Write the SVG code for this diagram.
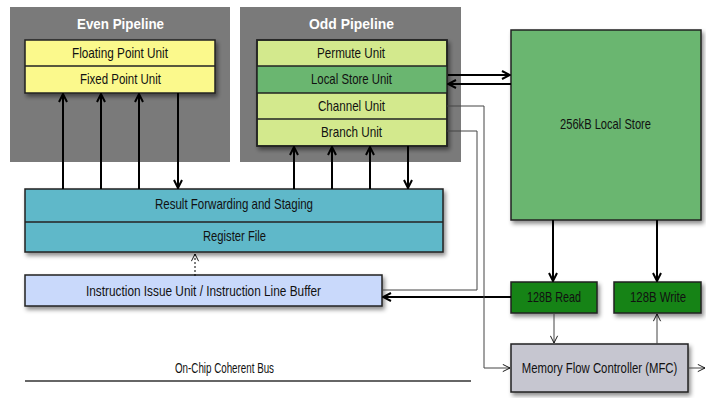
<svg xmlns="http://www.w3.org/2000/svg" width="706" height="398" viewBox="0 0 706 398">
<defs>
<filter id="sh" x="-10%" y="-10%" width="130%" height="140%">
<feDropShadow dx="2" dy="3" stdDeviation="2" flood-color="#000" flood-opacity="0.45"/>
</filter>
<marker id="ah" viewBox="0 0 10 10" refX="9" refY="5" markerWidth="10" markerHeight="10" markerUnits="userSpaceOnUse" orient="auto">
<path d="M1,1 L9,5 L1,9" fill="none" stroke="#000" stroke-width="2"/>
</marker>
<marker id="ahs" viewBox="0 0 10 10" refX="9" refY="5" markerWidth="9" markerHeight="9" markerUnits="userSpaceOnUse" orient="auto">
<path d="M1,1 L9,5 L1,9" fill="none" stroke="#000" stroke-width="1"/>
</marker>
</defs>
<style>
text{font-family:"Liberation Sans",Arial,sans-serif;font-size:15px;text-anchor:middle;fill:#111}
.title{font-weight:bold;fill:#fff;font-size:15px}
.box{stroke:#222;stroke-width:1.5}
.panel{fill:#7a7a7a}
.thick{stroke:#000;stroke-width:2;fill:none}
.thin{stroke:#444;stroke-width:1;fill:none}
</style>
<rect width="706" height="398" fill="#fff"/>

<g id="even-pipeline">
<rect class="panel" x="10" y="7" width="220" height="155"/>
<text class="title" x="120.5" y="29" textLength="87" lengthAdjust="spacingAndGlyphs">Even Pipeline</text>
</g>
<g id="odd-pipeline">
<rect class="panel" x="240" y="7" width="221" height="155"/>
<text class="title" x="351.5" y="29" textLength="85" lengthAdjust="spacingAndGlyphs">Odd Pipeline</text>
</g>

<g id="even-units" filter="url(#sh)">
<rect class="box" x="25" y="40" width="190" height="53" fill="#fbf98c"/>
<line x1="25" y1="66" x2="215" y2="66" stroke="#222" stroke-width="1.5"/>
</g>
<g id="floating-point-unit"><text x="120" y="58" textLength="96" lengthAdjust="spacingAndGlyphs">Floating Point Unit</text></g>
<g id="fixed-point-unit"><text x="120.5" y="84" textLength="81" lengthAdjust="spacingAndGlyphs">Fixed Point Unit</text></g>

<g id="odd-units" filter="url(#sh)">
<rect class="box" x="257" y="40" width="190" height="106" fill="#d3e98d"/>
<rect x="257" y="66" width="190" height="27" fill="#6bb66f"/>
<line x1="257" y1="66" x2="447" y2="66" stroke="#222" stroke-width="1.5"/>
<line x1="257" y1="93" x2="447" y2="93" stroke="#222" stroke-width="1.5"/>
<line x1="257" y1="119" x2="447" y2="119" stroke="#222" stroke-width="1.5"/>
<rect x="257" y="40" width="190" height="106" fill="none" stroke="#222" stroke-width="1.5"/>
</g>
<g id="permute-unit"><text x="351" y="58" textLength="68" lengthAdjust="spacingAndGlyphs">Permute Unit</text></g>
<g id="local-store-unit"><text x="351.5" y="84" textLength="81" lengthAdjust="spacingAndGlyphs">Local Store Unit</text></g>
<g id="channel-unit"><text x="351.5" y="111" textLength="67" lengthAdjust="spacingAndGlyphs">Channel Unit</text></g>
<g id="branch-unit"><text x="351.5" y="137" textLength="61" lengthAdjust="spacingAndGlyphs">Branch Unit</text></g>

<g id="local-store">
<rect class="box" x="511" y="30" width="190" height="190" fill="#6bb66f" filter="url(#sh)"/>
<text x="605.5" y="129" textLength="91" lengthAdjust="spacingAndGlyphs">256kB Local Store</text>
</g>

<g id="result-forwarding" filter="url(#sh)">
<rect class="box" x="25" y="189" width="418" height="63" fill="#5fb8c9"/>
<line x1="25" y1="222" x2="443" y2="222" stroke="#222" stroke-width="1.5"/>
</g>
<g id="result-forwarding-label"><text x="234" y="209" textLength="158" lengthAdjust="spacingAndGlyphs">Result Forwarding and Staging</text></g>
<g id="register-file"><text x="234.5" y="241" textLength="63" lengthAdjust="spacingAndGlyphs">Register File</text></g>

<g id="instruction-issue">
<rect class="box" x="25" y="275" width="357" height="31" fill="#c9d9fb" filter="url(#sh)"/>
<text x="203.5" y="296" textLength="235" lengthAdjust="spacingAndGlyphs">Instruction Issue Unit / Instruction Line Buffer</text>
</g>

<g id="read-128">
<rect class="box" x="511" y="282" width="86" height="31" fill="#138313" filter="url(#sh)"/>
<text x="554" y="302" textLength="54" lengthAdjust="spacingAndGlyphs">128B Read</text>
</g>
<g id="write-128">
<rect class="box" x="614" y="282" width="87" height="31" fill="#138313" filter="url(#sh)"/>
<text x="658" y="302" textLength="56" lengthAdjust="spacingAndGlyphs">128B Write</text>
</g>

<g id="mfc">
<rect class="box" x="511" y="344" width="177" height="48" fill="#c6c6d0" filter="url(#sh)"/>
<text transform="translate(599.5,373) scale(0.77,1)" x="0" y="0" textLength="202" lengthAdjust="spacingAndGlyphs">Memory Flow Controller (MFC)</text>
</g>

<g id="bus">
<line x1="25" y1="381" x2="471" y2="381" stroke="#333" stroke-width="1.5"/>
<text x="224.5" y="373" font-size="14" textLength="99" lengthAdjust="spacingAndGlyphs">On-Chip Coherent Bus</text>
</g>

<g id="connectors">
<line class="thick" x1="63" y1="189" x2="63" y2="94" marker-end="url(#ah)"/>
<line class="thick" x1="101" y1="189" x2="101" y2="94" marker-end="url(#ah)"/>
<line class="thick" x1="139" y1="189" x2="139" y2="94" marker-end="url(#ah)"/>
<line class="thick" x1="178" y1="93" x2="178" y2="188" marker-end="url(#ah)"/>
<line class="thick" x1="294" y1="189" x2="294" y2="147" marker-end="url(#ah)"/>
<line class="thick" x1="332" y1="189" x2="332" y2="147" marker-end="url(#ah)"/>
<line class="thick" x1="370" y1="189" x2="370" y2="147" marker-end="url(#ah)"/>
<line class="thick" x1="408" y1="146" x2="408" y2="188" marker-end="url(#ah)"/>
<line class="thick" x1="448" y1="75" x2="510" y2="75" marker-end="url(#ah)"/>
<line class="thick" x1="511" y1="84" x2="448" y2="84" marker-end="url(#ah)"/>
<line class="thick" x1="553" y1="220" x2="553" y2="281" marker-end="url(#ah)"/>
<line class="thick" x1="657" y1="220" x2="657" y2="281" marker-end="url(#ah)"/>
<line class="thick" x1="511" y1="297" x2="383" y2="297" marker-end="url(#ah)"/>
<polyline class="thin" points="447,106 484,106 484,368 510,368" marker-end="url(#ahs)"/>
<polyline class="thin" points="447,131 477,131 477,290 382,290"/>
<line class="thin" x1="554" y1="313" x2="554" y2="343" marker-end="url(#ahs)"/>
<line class="thin" x1="657" y1="344" x2="657" y2="314" marker-end="url(#ahs)"/>
<line class="thin" x1="688" y1="368" x2="705" y2="368" marker-end="url(#ahs)"/>
<line x1="195" y1="276" x2="195" y2="254" stroke="#000" stroke-width="1" stroke-dasharray="2,2" marker-end="url(#ahs)"/>
</g>
</svg>
